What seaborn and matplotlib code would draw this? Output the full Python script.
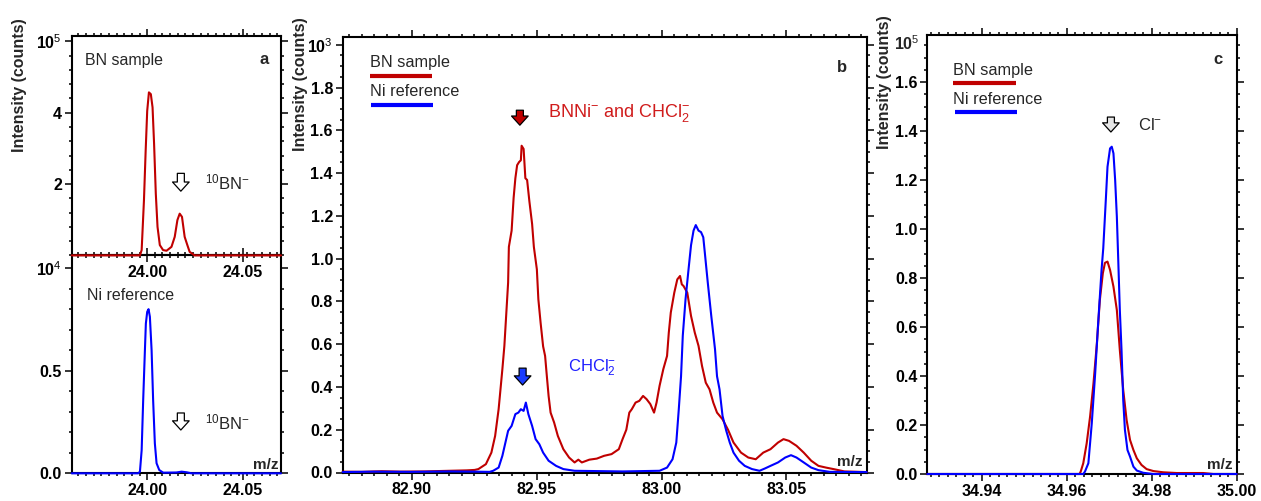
import matplotlib
matplotlib.use("Agg")
import matplotlib.pyplot as plt
from matplotlib.ticker import MultipleLocator
from matplotlib.lines import Line2D
import pandas as pd
import seaborn as sns

# ---------------- data ----------------
# panel a, top: BN sample around m/z 24 (x 10^5 counts)
a_top_mz = [23.9605, 23.9962, 23.9971, 23.9983, 23.9992, 24.0000, 24.0009, 24.0019,
            24.0028, 24.0036, 24.0045, 24.0054, 24.0066, 24.0083, 24.0101, 24.0127,
            24.0144, 24.0158, 24.0170, 24.0182, 24.0196, 24.0210, 24.0222, 24.0248, 24.0700]
a_top_counts = [0.0, 0.0, 0.15, 1.54, 2.94, 4.05, 4.57, 4.52,
                4.15, 3.13, 1.73, 0.80, 0.29, 0.15, 0.13, 0.24,
                0.52, 0.99, 1.17, 1.08, 0.52, 0.29, 0.10, 0.0, 0.0]

# panel a, bottom: Ni reference around m/z 24 (x 10^4 counts)
a_bot_mz = [23.9605, 23.9953, 23.9962, 23.9971, 23.9979, 23.9988, 23.9993, 24.0000,
            24.0007, 24.0014, 24.0023, 24.0031, 24.0040, 24.0049, 24.0063, 24.0084,
            24.0153, 24.0180, 24.0206, 24.0232, 24.0700]
a_bot_counts = [0.0, 0.0, 0.008, 0.113, 0.357, 0.60, 0.73, 0.787,
                0.80, 0.763, 0.60, 0.357, 0.146, 0.049, 0.016, 0.003,
                0.004, 0.008, 0.005, 0.0, 0.0]

# panel b: m/z 83 region (x 10^3 counts)
b_red_mz = [82.8724, 82.8800, 82.8880, 82.8956, 82.9050, 82.9150, 82.9220, 82.9252,
            82.9267, 82.9297, 82.9319, 82.9334, 82.9348, 82.9363, 82.9371, 82.9386,
            82.9389, 82.9400, 82.9408, 82.9415, 82.9422, 82.9430, 82.9437, 82.9440,
            82.9448, 82.9455, 82.9462, 82.9471, 82.9482, 82.9489, 82.9501, 82.9507,
            82.9516, 82.9526, 82.9534, 82.9541, 82.9548, 82.9556, 82.9570, 82.9585,
            82.9607, 82.9630, 82.9652, 82.9667, 82.9681, 82.9711, 82.9741, 82.9770,
            82.9800, 82.9829, 82.9844, 82.9859, 82.9871, 82.9881, 82.9896, 82.9911,
            82.9926, 82.9940, 82.9955, 82.9970, 82.9980, 82.9992, 83.0007, 83.0022,
            83.0029, 83.0037, 83.0051, 83.0063, 83.0074, 83.0081, 83.0088, 83.0103,
            83.0118, 83.0133, 83.0148, 83.0162, 83.0177, 83.0192, 83.0207, 83.0222,
            83.0244, 83.0266, 83.0288, 83.0318, 83.0347, 83.0377, 83.0407, 83.0436,
            83.0466, 83.0488, 83.0510, 83.0540, 83.0569, 83.0599, 83.0628, 83.0658,
            83.0688, 83.0732, 83.0821]
b_red_counts = [0.004, 0.003, 0.006, 0.004, 0.005, 0.008, 0.010, 0.012,
                0.016, 0.039, 0.093, 0.171, 0.296, 0.483, 0.592, 0.888,
                1.055, 1.131, 1.284, 1.376, 1.437, 1.452, 1.460, 1.528,
                1.513, 1.376, 1.368, 1.269, 1.162, 1.055, 0.950, 0.810,
                0.700, 0.590, 0.545, 0.450, 0.358, 0.280, 0.234, 0.171,
                0.109, 0.070, 0.047, 0.060, 0.047, 0.060, 0.065, 0.078,
                0.086, 0.109, 0.156, 0.200, 0.280, 0.296, 0.327, 0.335,
                0.358, 0.343, 0.320, 0.280, 0.327, 0.405, 0.483, 0.545,
                0.654, 0.748, 0.841, 0.903, 0.919, 0.880, 0.872, 0.841,
                0.732, 0.654, 0.592, 0.498, 0.420, 0.389, 0.327, 0.280,
                0.249, 0.200, 0.140, 0.093, 0.070, 0.062, 0.093, 0.109,
                0.140, 0.156, 0.148, 0.125, 0.093, 0.055, 0.031, 0.023,
                0.016, 0.005, 0.002]

b_blue_mz = [82.8724, 82.8850, 82.9000, 82.9150, 82.9252, 82.9312, 82.9326, 82.9348,
             82.9363, 82.9386, 82.9400, 82.9415, 82.9427, 82.9437, 82.9448, 82.9457,
             82.9467, 82.9482, 82.9496, 82.9511, 82.9526, 82.9548, 82.9578, 82.9607,
             82.9652, 82.9844, 82.9992, 83.0022, 83.0044, 83.0059, 83.0069, 83.0078,
             83.0085, 83.0096, 83.0108, 83.0118, 83.0128, 83.0137, 83.0148, 83.0158,
             83.0167, 83.0173, 83.0185, 83.0199, 83.0214, 83.0222, 83.0232, 83.0244,
             83.0259, 83.0273, 83.0288, 83.0310, 83.0333, 83.0362, 83.0392, 83.0414,
             83.0436, 83.0466, 83.0495, 83.0518, 83.0540, 83.0569, 83.0599, 83.0628,
             83.0673, 83.0821]
b_blue_counts = [0.002, 0.004, 0.003, 0.005, 0.004, 0.003, 0.008, 0.023,
                 0.078, 0.195, 0.218, 0.273, 0.280, 0.296, 0.288, 0.327,
                 0.273, 0.218, 0.156, 0.132, 0.093, 0.055, 0.031, 0.016,
                 0.008, 0.005, 0.008, 0.023, 0.062, 0.140, 0.296, 0.450,
                 0.640, 0.810, 0.950, 1.063, 1.131, 1.157, 1.131, 1.124,
                 1.100, 1.030, 0.888, 0.732, 0.576, 0.450, 0.389, 0.265,
                 0.195, 0.140, 0.093, 0.055, 0.031, 0.016, 0.008, 0.019,
                 0.031, 0.047, 0.070, 0.081, 0.070, 0.047, 0.023, 0.011,
                 0.003, 0.002]

# panel c: Cl- region (x 10^5 counts)
c_red_mz = [34.9272, 34.9630, 34.9633, 34.9639, 34.9647, 34.9655, 34.9663, 34.9671,
            34.9678, 34.9685, 34.9690, 34.9696, 34.9702, 34.9710, 34.9718, 34.9725,
            34.9733, 34.9741, 34.9749, 34.9757, 34.9765, 34.9776, 34.9788, 34.9804,
            34.9827, 34.9859, 34.9921, 34.9945, 35.0000]
c_red_counts = [0.0, 0.0, 0.010, 0.044, 0.125, 0.234, 0.370, 0.533,
                0.710, 0.819, 0.862, 0.867, 0.833, 0.765, 0.669, 0.506,
                0.343, 0.220, 0.139, 0.098, 0.064, 0.037, 0.020, 0.012,
                0.007, 0.004, 0.004, 0.0, 0.0]

c_blue_mz = [34.9272, 34.9639, 34.9643, 34.9651, 34.9659, 34.9667, 34.9674, 34.9682,
             34.9686, 34.9692, 34.9696, 34.9702, 34.9706, 34.9710, 34.9714, 34.9718,
             34.9721, 34.9725, 34.9729, 34.9733, 34.9737, 34.9743, 34.9749, 34.9757,
             34.9765, 34.9780, 34.9804, 35.0000]
c_blue_counts = [0.0, 0.0, 0.010, 0.044, 0.207, 0.411, 0.615, 0.833,
                 0.921, 1.118, 1.254, 1.329, 1.336, 1.309, 1.200, 1.050,
                 0.890, 0.669, 0.506, 0.302, 0.180, 0.098, 0.071, 0.030,
                 0.014, 0.005, 0.0, 0.0]

series_labels = ["BN sample", "Ni reference"]

# ---------------- style ----------------
sns.set_theme(style="ticks")
plt.rcParams["font.family"] = ["Liberation Sans", "DejaVu Sans"]
plt.rcParams["mathtext.fontset"] = "custom"
plt.rcParams["mathtext.rm"] = "Liberation Sans"
plt.rcParams["mathtext.it"] = "Liberation Sans:italic"
plt.rcParams["mathtext.bf"] = "Liberation Sans:bold"

RED = "#c00000"
BLUE = "#0000ff"
RED_TXT = "#d01c1c"
BLUE_TXT = "#1f1fff"
TICK_FS = 11.5
LEG_FS = 11.7

W, H = 1261, 501
fig = plt.figure(figsize=(W / 100, H / 100), dpi=100)


def rect(l, r, t, b):
    return [l / W, 1 - b / H, (r - l) / W, (b - t) / H]


def ftext(px, py, s, **kw):
    kw.setdefault("va", "center")
    fig.text(px / W, 1 - py / H, s, **kw)


def fline(x1, x2, py, color):
    fig.add_artist(Line2D([x1 / W, x2 / W], [1 - py / H, 1 - py / H],
                          transform=fig.transFigure, color=color, lw=3,
                          solid_capstyle="butt"))


def draw(ax, mz, counts, color):
    df = pd.DataFrame({"mz": mz, "counts": counts})
    sns.lineplot(data=df, x="mz", y="counts", ax=ax, color=color, linewidth=1.5,
                 estimator=None, sort=False, legend=False)


def style(ax, xt, xl, xminor, yt, yl, yminor):
    ax.set_xticks(xt, xl, fontsize=TICK_FS, fontweight="bold")
    ax.set_yticks(yt, yl, fontsize=TICK_FS, fontweight="bold")
    ax.xaxis.set_minor_locator(MultipleLocator(xminor))
    ax.yaxis.set_minor_locator(MultipleLocator(yminor))
    ax.tick_params(which="both", direction="out", top=True, right=True,
                   width=1.1, color="black", labelcolor="black")
    ax.tick_params(which="major", length=5, pad=2)
    ax.tick_params(which="minor", length=2.5)
    for sp in ax.spines.values():
        sp.set_linewidth(1.5)
        sp.set_color("black")
    ax.set_xlabel("")
    ax.set_ylabel("")
    ax.patch.set_alpha(0.0)
    for ln in ax.lines:
        ln.set_zorder(3)
        ln.set_clip_on(False)


def marker_arrow(ax, x, y_tip, y_tail, fc):
    ax.annotate("", xy=(x, y_tip), xytext=(x, y_tail),
                arrowprops=dict(arrowstyle="simple,head_length=0.55,head_width=1.0,tail_width=0.42",
                                fc=fc, ec="black", lw=0.9, shrinkA=0, shrinkB=0,
                                mutation_scale=12))


# ---------------- panel a ----------------
a_xt = [24.00, 24.05]
a_xl = ["24.00", "24.05"]

ax_ab = fig.add_axes(rect(71.7, 281, 255.4, 473.3))
draw(ax_ab, a_bot_mz, a_bot_counts, BLUE)
ax_ab.set_xlim(23.9605, 24.070)
ax_ab.set_ylim(0, 1.062)
style(ax_ab, a_xt, a_xl, 0.004, [0.0, 0.5, 1.0], ["0.0", "0.5", r"$\mathbf{10}^{4}$"], 0.1)
marker_arrow(ax_ab, 24.0176, 0.211, 0.294, "white")

ax_at = fig.add_axes(rect(71.7, 281, 36, 255.4))
draw(ax_at, a_top_mz, a_top_counts, RED)
ax_at.set_xlim(23.9605, 24.070)
ax_at.set_ylim(0, 6.15)
style(ax_at, a_xt, a_xl, 0.004, [2, 4, 6], ["2", "4", r"$\mathbf{10}^{5}$"], 0.4)
marker_arrow(ax_at, 24.0176, 1.80, 2.30, "white")

# ---------------- panel b ----------------
ax_b = fig.add_axes(rect(342.7, 866.7, 37.3, 472.5))
draw(ax_b, b_red_mz, b_red_counts, RED)
draw(ax_b, b_blue_mz, b_blue_counts, BLUE)
ax_b.set_xlim(82.8724, 83.0821)
ax_b.set_ylim(0, 2.035)
b_yt = [0.0, 0.2, 0.4, 0.6, 0.8, 1.0, 1.2, 1.4, 1.6, 1.8, 2.0]
b_yl = ["0.0", "0.2", "0.4", "0.6", "0.8", "1.0", "1.2", "1.4", "1.6", "1.8",
        r"$\mathbf{10}^{3}$"]
style(ax_b, [82.90, 82.95, 83.00, 83.05], ["82.90", "82.95", "83.00", "83.05"], 0.005,
      b_yt, b_yl, 0.05)
marker_arrow(ax_b, 82.9433, 1.624, 1.694, RED)
marker_arrow(ax_b, 82.9444, 0.409, 0.488, "#1a3cff")

# ---------------- panel c ----------------
ax_c = fig.add_axes(rect(927.3, 1236.7, 35, 474))
draw(ax_c, c_red_mz, c_red_counts, RED)
draw(ax_c, c_blue_mz, c_blue_counts, BLUE)
ax_c.set_xlim(34.9272, 35.000)
ax_c.set_ylim(0, 1.792)
style(ax_c, [34.94, 34.96, 34.98, 35.00], ["34.94", "34.96", "34.98", "35.00"], 0.002,
      [0.0, 0.2, 0.4, 0.6, 0.8, 1.0, 1.2, 1.4, 1.6],
      ["0.0", "0.2", "0.4", "0.6", "0.8", "1.0", "1.2", "1.4", "1.6"], 0.05)
marker_arrow(ax_c, 34.9704, 1.396, 1.457, "#e6e6e6")

# ---------------- texts ----------------
ylab = dict(rotation=90, ha="center", fontsize=11.5, fontweight="bold")
ftext(20, 85, "Intensity (counts)", **ylab)
ftext(300, 84, "Intensity (counts)", **ylab)
ftext(885, 82, "Intensity (counts)", **ylab)

ftext(264, 59, "a", ha="center", fontsize=12, fontweight="bold")
ftext(842, 67, "b", ha="center", fontsize=12, fontweight="bold")
ftext(1218, 59, "c", ha="center", fontsize=12, fontweight="bold")

ftext(920, 44, r"$\mathbf{10}^{5}$", ha="right", fontsize=TICK_FS)

ftext(85, 60, series_labels[0], ha="left", fontsize=11.5)
ftext(87, 295, series_labels[1], ha="left", fontsize=11.5)
ftext(205, 182, r"$^{10}$BN$^{-}$", ha="left", fontsize=12)
ftext(205, 422, r"$^{10}$BN$^{-}$", ha="left", fontsize=12)

# legends of panels b and c
ftext(370, 63, series_labels[0], ha="left", fontsize=LEG_FS)
fline(370, 432, 76, RED)
ftext(370, 92, series_labels[1], ha="left", fontsize=LEG_FS)
fline(371, 433, 105, BLUE)

ftext(953, 71, series_labels[0], ha="left", fontsize=LEG_FS)
fline(953, 1016, 83, RED)
ftext(953, 99, series_labels[1], ha="left", fontsize=LEG_FS)
fline(955, 1017, 112, BLUE)

ftext(548, 113, r"BNNi$^{-}$ and CHCl$_{2}^{-}$", ha="left", fontsize=13, color=RED_TXT)
ftext(568, 368, r"CHCl$_{2}^{-}$", ha="left", fontsize=12, color=BLUE_TXT)
ftext(1138, 125, r"Cl$^{-}$", ha="left", fontsize=12)

ftext(278, 465, "m/z", ha="right", fontsize=11, fontweight="bold")
ftext(863, 462, "m/z", ha="right", fontsize=11, fontweight="bold")
ftext(1233, 465, "m/z", ha="right", fontsize=11, fontweight="bold")

fig.savefig("out.png", dpi=100, facecolor="white")
